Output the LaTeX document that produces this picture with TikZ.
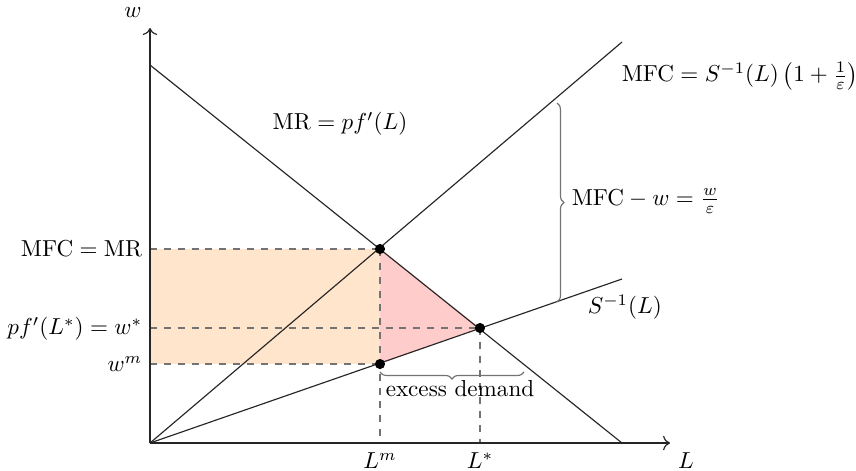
\documentclass[tikz,border=0pt]{standalone}
\usetikzlibrary{decorations.pathreplacing,arrows.meta}
\begin{document}
\begin{tikzpicture}[x=0.4329pt,y=-0.4329pt,
  curve/.style={line width=0.5pt,black!85},
  guide/.style={dashed,black!55,line width=0.45pt},
  dot/.style={circle,fill=black,inner sep=0pt,minimum size=4.4pt},
  bracegray/.style={black!55,line width=0.5pt,decorate,decoration={brace,amplitude=3pt}},
  lab/.style={inner sep=1pt}]
\useasboundingbox (0,0) rectangle (856,470);
% key points
\coordinate (O) at (150,443);
\coordinate (wtop) at (150,28);
\coordinate (Lend) at (670,443);
\coordinate (MRs) at (150,65);
\coordinate (MRe) at (622,443);
\coordinate (MFCe) at (622,42);
\coordinate (Se) at (622,279);
\coordinate (A) at (380,249);
\coordinate (B) at (480,328);
\coordinate (C) at (380,364);
\coordinate (yA) at (150,249);
\coordinate (yB) at (150,328);
\coordinate (yC) at (150,364);
\coordinate (xA) at (380,443);
\coordinate (xB) at (480,443);
% fills
\fill[orange!20] (yA) rectangle (C);
\fill[red!20] (A) -- (B) -- (C) -- cycle;
% guides
\draw[guide] (yA) -- (A);
\draw[guide] (yB) -- (B);
\draw[guide] (yC) -- (C);
\draw[guide] (A) -- (xA);
\draw[guide] (B) -- (xB);
% axes
\draw[curve,-{To[length=3pt]}] (O) -- (wtop);
\draw[curve,-{To[length=3pt]}] (O) -- (Lend);
% curves
\draw[curve] (MRs) -- (MRe);
\draw[curve] (O) -- (MFCe);
\draw[curve] (O) -- (Se);
% dots
\node[dot] (dA) at (A) {};
\node[dot] (dB) at (B) {};
\node[dot] (dC) at (C) {};
% braces
\coordinate (br1) at (557,103);
\coordinate (br2) at (557,302);
\draw[bracegray] (br1) -- (br2);
\coordinate (br3) at (524,372);
\coordinate (br4) at (380,372);
\draw[bracegray] (br3) -- (br4);
% labels
\node[lab] (lw) at (133,13) {$w$};
\node[lab] (lL) at (686,461) {$L$};
\node[lab] (lLm) at (380,461) {$L^m$};
\node[lab] (lLs) at (480,461) {$L^*$};
\node[lab,anchor=east] (lA) at (145,249) {$\mathrm{MFC}=\mathrm{MR}$};
\node[lab,anchor=east] (lB) at (145,329) {$pf'(L^*)=w^*$};
\node[lab,anchor=east] (lC) at (145,364) {$w^m$};
\node[lab] (lMR) at (340,124) {$\mathrm{MR}=pf'(L)$};
\node[lab,anchor=west] (lMFC) at (619,76) {$\mathrm{MFC}=S^{-1}(L)\left(1+\frac{1}{\varepsilon}\right)$};
\node[lab,anchor=west] (lS) at (585,307) {$S^{-1}(L)$};
\node[lab,anchor=west] (lgap) at (569,201) {$\mathrm{MFC}-w=\frac{w}{\varepsilon}$};
\node[lab] (lex) at (460,389) {excess demand};
\end{tikzpicture}
\end{document}
